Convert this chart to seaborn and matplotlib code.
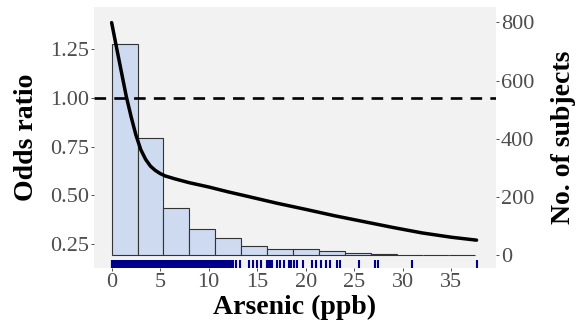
import seaborn as sns
import matplotlib.pyplot as plt

# number of subjects per arsenic bin (right axis)
hist_counts = [724, 402, 162, 90, 59, 33, 22, 22, 16, 7, 5, 1, 3, 1]
hist_top = 37.4

# fitted odds ratio curve (left axis)
curve_x = [0, 0.5, 1.0, 1.5, 2.0, 2.5, 3.0, 3.5, 4.0, 4.5, 5.0, 5.5, 6.5, 8, 10,
           12, 14, 17, 20, 23, 26, 29, 32, 35, 37.6]
curve_or = [1.387, 1.26, 1.135, 1.01, 0.905, 0.81, 0.735, 0.685, 0.65, 0.628, 0.612,
            0.60, 0.585, 0.565, 0.543, 0.518, 0.495, 0.46, 0.428, 0.395, 0.365,
            0.335, 0.307, 0.285, 0.27]

# individual arsenic values (rug)
rug_x = [0.0, 0.08, 0.17, 0.25, 0.33, 0.42, 0.5, 0.58, 0.67, 0.75, 0.83, 0.92,
         1.0, 1.08, 1.17, 1.25, 1.33, 1.42, 1.5, 1.58, 1.67, 1.75, 1.83, 1.92,
         2.0, 2.08, 2.17, 2.25, 2.33, 2.42, 2.5, 2.58, 2.67, 2.75, 2.83, 2.92,
         3.0, 3.08, 3.17, 3.25, 3.33, 3.42, 3.5, 3.58, 3.67, 3.75, 3.83, 3.92,
         4.0, 4.08, 4.17, 4.25, 4.33, 4.42, 4.5, 4.58, 4.67, 4.75, 4.83, 4.92,
         5.0, 5.08, 5.17, 5.25, 5.33, 5.42, 5.5, 5.58, 5.67, 5.75, 5.83, 5.92,
         6.0, 6.08, 6.17, 6.25, 6.33, 6.42, 6.5, 6.58, 6.67, 6.75, 6.83,
         6.95, 7.05, 7.15, 7.25, 7.35, 7.45, 7.55, 7.65, 7.8, 7.9, 8.0, 8.1,
         8.25, 8.35, 8.45, 8.6, 8.7, 8.8, 8.95, 9.05, 9.15, 9.25, 9.35, 9.5,
         9.6, 9.7, 9.8, 9.95, 10.05, 10.2, 10.3, 10.45, 10.55, 10.7, 10.8,
         10.95, 11.05, 11.2, 11.35, 11.5, 11.65, 11.8, 12.0, 12.15, 12.4, 12.55,
         12.85, 13.2, 14.2, 14.6, 15.0, 15.4, 16.0, 16.1, 16.2, 16.3, 16.4, 16.5,
         17.0, 17.3, 17.8, 18.3, 18.5, 18.8, 19.1, 19.7, 20.6, 21.1, 21.6, 22.1,
         22.5, 23.2, 23.5, 25.5, 27.1, 27.4, 30.9, 37.6]

x_ticks = [0, 5, 10, 15, 20, 25, 30, 35]
or_ticks = [0.25, 0.50, 0.75, 1.00, 1.25]
n_ticks = [0, 200, 400, 600, 800]

sns.set_theme(style="white")
plt.rcParams['font.family'] = ['Liberation Serif', 'DejaVu Serif']

fig = plt.figure(figsize=(5.83, 3.35), dpi=100)
ax = fig.add_axes([0.1612, 0.2, 0.6895, 0.779])
ax.set_facecolor('#f2f2f2')

n_bins = len(hist_counts)
bin_w = hist_top / n_bins
mids = [bin_w * (i + 0.5) for i in range(n_bins)]
sns.histplot(x=mids, weights=hist_counts, bins=n_bins, binrange=(0, hist_top), ax=ax,
             color='#cddaf0', alpha=1, edgecolor='#333333', linewidth=0.8)
sns.rugplot(x=rug_x, ax=ax, height=0.032, color='#00008b', alpha=1, linewidth=1.5)

ax.set_xlim(-1.82, 39.6)
ax.set_ylim(-43, 852)
ax.yaxis.tick_right()
ax.yaxis.set_label_position('right')
ax.set_yticks(n_ticks)
ax.set_xticks(x_ticks)

# odds ratio on the left
ax2 = ax.twinx()
ax2.yaxis.tick_left()
ax2.yaxis.set_label_position('left')
ax2.axhline(1.0, color='black', lw=1.9, dashes=(4.4, 3.1))
sns.lineplot(x=curve_x, y=curve_or, ax=ax2, color='black', lw=2.5)
ax2.set_ylim(0.127, 1.467)
ax2.set_yticks(or_ticks)
ax2.set_yticklabels([f'{t:.2f}' for t in or_ticks])

for a in (ax, ax2):
    for s in a.spines.values():
        s.set_visible(False)
    a.tick_params(length=2.5, width=0.6, color='#333333', labelcolor='#4d4d4d',
                  labelsize=16, pad=1)

ax.tick_params(axis='y', right=True, left=False, labelright=True, labelleft=False)
ax2.tick_params(axis='y', left=True, right=False, labelleft=True, labelright=False)
ax.tick_params(axis='x', bottom=True)

ax.set_xlabel('Arsenic (ppb)', fontsize=20, fontweight='bold', color='black', labelpad=2)
ax.set_ylabel('No. of subjects', fontsize=20, fontweight='bold', color='black', labelpad=12)
ax2.set_ylabel('Odds ratio', fontsize=20, fontweight='bold', color='black', labelpad=8)

fig.savefig('out.png', dpi=100)
